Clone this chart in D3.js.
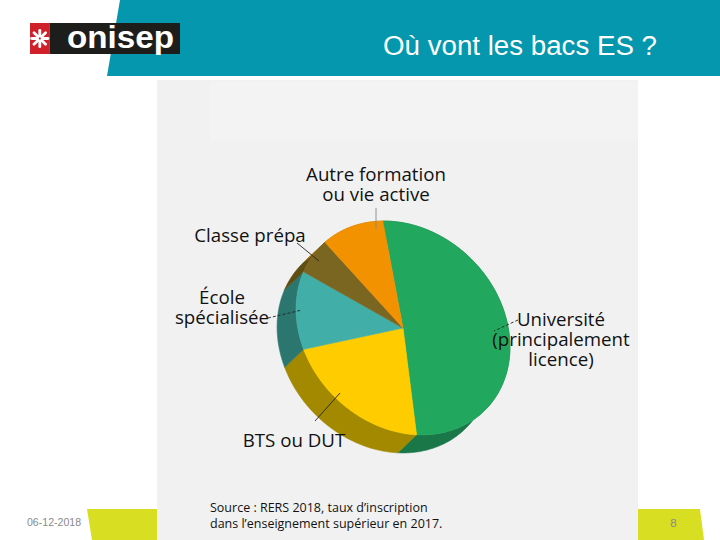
<!DOCTYPE html>
<html>
<head>
<meta charset="utf-8">
<script src="https://cdn.jsdelivr.net/npm/d3@7/dist/d3.min.js"></script>
<style>
  html, body { margin: 0; padding: 0; background: #ffffff; }
  svg { display: block; }
</style>
</head>
<body>
<svg id="chart" width="720" height="540"></svg>
<script>
// ---------- DATA ----------
const categories = ["Université (principalement licence)", "BTS ou DUT", "École spécialisée", "Classe prépa", "Autre formation ou vie active"];
const values = [51, 21, 12, 6, 10];
const topColors = ["#22a85e", "#ffcc00", "#42aea8", "#7a6521", "#f39200"];
const sideColors = ["#1a7748", "#a38900", "#2b7770", "#5e4e12", "#b86f00"];
const labelLines = [
  ["Université", "(principalement", "licence)"],
  ["BTS ou DUT"],
  ["École", "spécialisée"],
  ["Classe prépa"],
  ["Autre formation", "ou vie active"]
];
const titleText = "Où vont les bacs ES ?";
const sourceLines = ["Source : RERS 2018, taux d’inscription", "dans l’enseignement supérieur en 2017."];
const dateText = "06-12-2018";
const pageText = "8";

// ---------- LAYOUT ----------
const svg = d3.select("#chart");
const W = 720, H = 540;

svg.append("rect").attr("width", W).attr("height", H).attr("fill", "#ffffff");
svg.append("polygon").attr("points", "120,0 720,0 720,76 107,76").attr("fill", "#0497ad");
svg.append("polygon").attr("points", "87,509 700,509 704,540 92,540").attr("fill", "#d8de22");
svg.append("rect").attr("x", 157).attr("y", 80).attr("width", 481).attr("height", 460).attr("fill", "#f1f1f1");
svg.append("rect").attr("x", 210).attr("y", 82).attr("width", 428).attr("height", 58).attr("fill", "#f3f3f3");

// logo
const logo = svg.append("g");
logo.append("rect").attr("x", 30).attr("y", 23).attr("width", 19.5).attr("height", 31).attr("fill", "#d0202a");
logo.append("rect").attr("x", 49.5).attr("y", 23).attr("width", 130.5).attr("height", 31).attr("fill", "#1d1d1b");
const sx = 39.8, sy = 38.5;
[0, 45, 90, 135].forEach(a => {
  const r = Math.PI * a / 180;
  [[2.4, 8.2], [-2.4, -8.2]].forEach(([r0, r1]) => {
    logo.append("line")
      .attr("x1", sx + Math.cos(r) * r0).attr("y1", sy + Math.sin(r) * r0)
      .attr("x2", sx + Math.cos(r) * r1).attr("y2", sy + Math.sin(r) * r1)
      .attr("stroke", "#ffffff").attr("stroke-width", 2.8).attr("stroke-linecap", "round");
  });
});
logo.append("text").attr("x", 67).attr("y", 48)
  .attr("font-family", "'Liberation Sans', Arial, sans-serif").attr("font-weight", "bold")
  .attr("font-size", 32).attr("fill", "#ffffff")
  .attr("textLength", 107).attr("lengthAdjust", "spacingAndGlyphs").text("onisep");

// title
svg.append("text").attr("x", 383).attr("y", 55)
  .attr("font-family", "'Liberation Sans', Arial, sans-serif").attr("font-size", 27)
  .attr("fill", "#ffffff").attr("textLength", 274).attr("lengthAdjust", "spacingAndGlyphs")
  .text(titleText);

// footer texts
svg.append("text").attr("x", 27).attr("y", 526)
  .attr("font-family", "'Liberation Sans Narrow', 'Liberation Sans', Arial, sans-serif").attr("font-size", 11.5)
  .attr("fill", "#8a8a8a").attr("textLength", 54).attr("lengthAdjust", "spacingAndGlyphs").text(dateText);
svg.append("text").attr("x", 673.5).attr("y", 527).attr("text-anchor", "middle")
  .attr("font-family", "'Liberation Sans Narrow', 'Liberation Sans', Arial, sans-serif").attr("font-size", 11.5)
  .attr("fill", "#8a8a8a").text(pageText);

// ---------- 3D PIE ----------
const cx = 403, cy = 328;
const semiMajor = 116, semiMinor = 97;
const A00 = (semiMajor + semiMinor) / 2, A01 = (semiMajor - semiMinor) / 2;
const A10 = A01, A11 = A00;
const depth = [-19, 18];
const startAngle = -0.101;

function proj(theta, r = 1) {
  const x = Math.sin(theta) * r, y = -Math.cos(theta) * r;
  return [cx + A00 * x + A01 * y, cy + A10 * x + A11 * y];
}
function arcPoints(a0, a1) {
  const n = Math.max(4, Math.ceil((a1 - a0) / 0.01));
  return d3.range(n + 1).map(i => proj(a0 + (a1 - a0) * i / n));
}

const pie = d3.pie().sort(null).value(d => d).startAngle(startAngle).endAngle(startAngle + 2 * Math.PI);
const arcs = pie(values);
const line = d3.line().curve(d3.curveLinear);
const color = d3.scaleOrdinal().domain(categories).range(topColors);
const sideColor = d3.scaleOrdinal().domain(categories).range(sideColors);

const pieG = svg.append("g");
arcs.forEach((a, i) => {
  const top = arcPoints(a.startAngle, a.endAngle);
  const bottom = top.map(p => [p[0] + depth[0], p[1] + depth[1]]).reverse();
  pieG.append("path").attr("d", line(top.concat(bottom)) + "Z")
    .attr("fill", sideColor(categories[i])).attr("stroke", sideColor(categories[i])).attr("stroke-width", 0.6);
});
arcs.forEach((a, i) => {
  const pts = [[cx, cy]].concat(arcPoints(a.startAngle, a.endAngle));
  pieG.append("path").attr("d", line(pts) + "Z")
    .attr("fill", color(categories[i])).attr("stroke", color(categories[i])).attr("stroke-width", 0.6);
});

// ---------- LABELS ----------
const labelFont = "'Open Sans', 'Noto Sans', sans-serif";
const labelLayout = [
  { x: 561, y: 326, anchor: "middle", lh: 20, leader: [[518, 320], [494, 331]], dash: "3,2", stroke: "#222" },
  { x: 294, y: 447, anchor: "middle", lh: 20, leader: [[315, 421], [340, 393]], dash: null, stroke: "#222" },
  { x: 222, y: 304, anchor: "middle", lh: 20, leader: [[268, 318], [302, 310]], dash: "3,2", stroke: "#222" },
  { x: 250, y: 242, anchor: "middle", lh: 20, leader: [[297, 243], [319, 261]], dash: null, stroke: "#222" },
  { x: 376, y: 181, anchor: "middle", lh: 20, leader: [[376, 208], [376, 229]], dash: null, stroke: "#888" }
];
const labG = svg.append("g");
labelLayout.forEach((L, i) => {
  labG.append("line")
    .attr("x1", L.leader[0][0]).attr("y1", L.leader[0][1])
    .attr("x2", L.leader[1][0]).attr("y2", L.leader[1][1])
    .attr("stroke", L.stroke).attr("stroke-width", 0.9)
    .attr("stroke-dasharray", L.dash);
  const t = labG.append("text").attr("font-family", labelFont).attr("font-size", 18.7)
    .attr("fill", "#111").attr("text-anchor", L.anchor);
  labelLines[i].forEach((s, j) => {
    t.append("tspan").attr("x", L.x).attr("y", L.y + j * L.lh).text(s);
  });
});

const src = svg.append("text").attr("font-family", labelFont).attr("font-size", 12.5).attr("fill", "#111");
sourceLines.forEach((s, j) => {
  src.append("tspan").attr("x", 210).attr("y", 512 + j * 16).text(s);
});
</script>
</body>
</html>
